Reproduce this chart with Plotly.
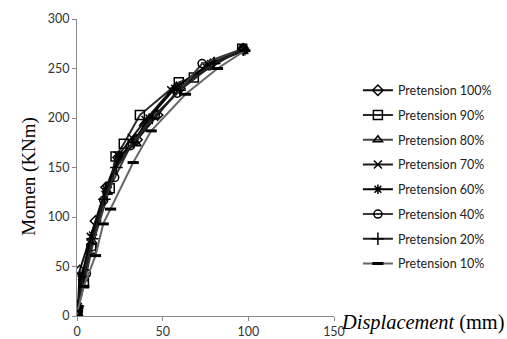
import plotly.graph_objects as go

# Data (displacement in mm, moment in KNm)
names = ["Pretension 100%", "Pretension 90%", "Pretension 80%", "Pretension 70%",
         "Pretension 60%", "Pretension 40%", "Pretension 20%", "Pretension 10%"]

x_100 = [0, 0.5, 1.6, 10.8, 17, 24, 35, 47, 60, 78, 97]
y_100 = [0, 8, 46, 96, 130, 160, 178, 203, 230, 254, 270]

x_90 = [0, 0.3, 4, 8.3, 19.1, 22.5, 27.3, 36.7, 59.4, 68.2, 96.4]
y_90 = [0, 6, 33, 68, 129, 161, 174, 203, 236, 241, 270]

x_80 = [0, 0.4, 4, 9, 18, 25, 34.7, 39, 58, 80, 97]
y_80 = [0, 7, 38, 75, 125, 162, 174, 194, 232, 257, 270]

x_70 = [0, 0.5, 3, 8, 17, 24, 32, 40, 55, 75, 97]
y_70 = [0, 9, 40, 80, 128, 162, 180, 198, 228, 252, 269]

x_60 = [0, 0.5, 3, 9, 17, 25, 33, 42, 57, 78, 98]
y_60 = [0, 8, 42, 82, 126, 160, 176, 200, 230, 255, 268]

x_40 = [0, 0.5, 5.5, 8.9, 15.6, 22, 31.2, 45.8, 58.5, 73, 97]
y_40 = [0, 6, 43, 70, 117, 140, 172, 203, 225, 255, 270]

x_20 = [0, 0.5, 4, 9, 16, 23, 33, 44, 60, 80, 97]
y_20 = [0, 10, 40, 78, 118, 150, 175, 200, 228, 255, 269]

x_10 = [0, 0.3, 4, 10.8, 15.3, 19.6, 32.8, 43.3, 63.3, 82, 98]
y_10 = [0, 5, 30, 61, 93, 108, 155, 187, 224, 250, 268]

xs = [x_100, x_90, x_80, x_70, x_60, x_40, x_20, x_10]
ys = [y_100, y_90, y_80, y_70, y_60, y_40, y_20, y_10]

x_ticks = [0, 50, 100, 150]
y_ticks = [0, 50, 100, 150, 200, 250, 300]

symbols = ["diamond-open", "square-open", "triangle-up-open", "x-thin-open",
           "asterisk-open", "circle-open", "cross-thin-open", "line-ew-open"]
line_colors = ["#111111", "#2a2a2a", "#444444", "#1a1a1a", "#000000", "#3a3a3a", "#222222", "#666666"]
sizes = [8, 9, 8, 8, 8, 8, 9, 8]

fig = go.Figure()
for i, name in enumerate(names):
    fig.add_trace(go.Scatter(
        x=xs[i], y=ys[i], name=name, mode="lines+markers",
        legendgroup=name,
        line=dict(color=line_colors[i], width=2),
        marker=dict(symbol=symbols[i], size=sizes[i], color="black",
                    line=dict(color="black", width=1.5 if i != 7 else 3)),
    ))

tick_font = dict(family="Lato, Carlito, Liberation Sans, sans-serif", size=12.5, color="#333333")

fig.update_layout(
    width=507, height=339,
    margin=dict(l=76.5, r=173, t=19, b=23.3, autoexpand=False),
    paper_bgcolor="white", plot_bgcolor="white",
    showlegend=True,
    legend=dict(x=1.093, xanchor="left", y=0.4675, yanchor="middle",
                traceorder="grouped", tracegroupgap=5.5,
                font=dict(family="Lato, Carlito, Liberation Sans, sans-serif", size=12.5, color="#222222"),
                bgcolor="rgba(0,0,0,0)"),
    xaxis=dict(range=[0, 150], tickvals=x_ticks, showgrid=False, zeroline=False,
               showline=True, linecolor="#888888", linewidth=1,
               ticks="outside", ticklen=4, tickcolor="#888888",
               tickfont=tick_font),
    yaxis=dict(range=[0, 300], tickvals=y_ticks, showgrid=False, zeroline=False,
               showline=True, linecolor="#888888", linewidth=1,
               ticks="outside", ticklen=4, tickcolor="#888888",
               tickfont=tick_font),
    annotations=[
        dict(text="Momen (KNm)", textangle=-90, xref="paper", yref="paper",
             x=-0.188, y=0.471, xanchor="center", yanchor="middle", showarrow=False,
             font=dict(family="Liberation Serif, Times New Roman, serif", size=19, color="black")),
        dict(text="<i>Displacement</i> (mm)", xref="paper", yref="paper",
             x=1.018, y=-0.021, xanchor="left", yanchor="middle", showarrow=False,
             font=dict(family="Liberation Serif, Times New Roman, serif", size=20.4, color="black")),
    ],
)

fig.write_html("out.html", config={"displayModeBar": False},
               post_script="document.body.style.margin='0';document.body.style.overflow='hidden';")
